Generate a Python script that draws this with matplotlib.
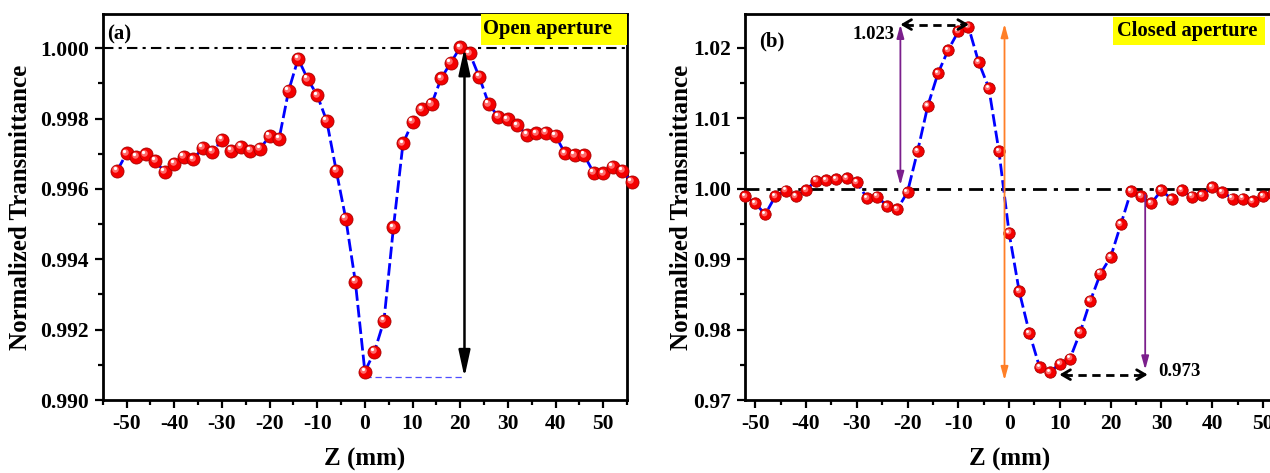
import matplotlib
matplotlib.use('Agg')
import matplotlib.pyplot as plt
from matplotlib.patches import FancyArrowPatch, Rectangle
from matplotlib.transforms import offset_copy
from matplotlib.ticker import MultipleLocator, FormatStrFormatter

plt.rcParams['font.family'] = ['Liberation Serif', 'DejaVu Serif']
plt.rcParams['font.weight'] = 'bold'
plt.rcParams['axes.labelweight'] = 'bold'
plt.rcParams['axes.unicode_minus'] = False

# ---------------- data ----------------
z_open = [-52, -50, -48, -46, -44, -42, -40, -38, -36, -34, -32, -30, -28, -26,
          -24, -22, -20, -18, -16, -14, -12, -10, -8, -6, -4, -2, 0, 2, 4, 6,
          8, 10, 12, 14, 16, 18, 20, 22, 24, 26, 28, 30, 32, 34, 36, 38, 40,
          42, 44, 46, 48, 50, 52, 54, 56]
t_open = [0.99651, 0.99701, 0.99691, 0.99698, 0.99680, 0.99648, 0.99672, 0.99691,
          0.99684, 0.99717, 0.99705, 0.99739, 0.99708, 0.99720, 0.99708, 0.99714,
          0.99750, 0.99742, 0.99879, 0.99970, 0.99912, 0.99866, 0.99793, 0.99651,
          0.99515, 0.99336, 0.99081, 0.99137, 0.99225, 0.99491, 0.99729, 0.99790,
          0.99826, 0.99841, 0.99914, 0.99958, 1.00002, 0.99985, 0.99918, 0.99841,
          0.99805, 0.99798, 0.99781, 0.99753, 0.99758, 0.99759, 0.99751, 0.99701,
          0.99696, 0.99696, 0.99646, 0.99644, 0.99663, 0.99651, 0.99620]

z_closed = [-52, -50, -48, -46, -44, -42, -40, -38, -36, -34, -32, -30, -28, -26,
            -24, -22, -20, -18, -16, -14, -12, -10, -8, -6, -4, -2, 0, 2, 4, 6,
            8, 10, 12, 14, 16, 18, 20, 22, 24, 26, 28, 30, 32, 34, 36, 38, 40,
            42, 44, 46, 48, 50, 52]
t_closed = [0.99897, 0.99792, 0.99637, 0.99897, 0.99972, 0.99897, 0.99981, 1.00113,
            1.00123, 1.00137, 1.00151, 1.00095, 0.99869, 0.99887, 0.99756, 0.99708,
            0.99953, 1.00537, 1.01177, 1.01638, 1.01968, 1.02232, 1.02298, 1.01798,
            1.01431, 1.00532, 0.99374, 0.98541, 0.97952, 0.97467, 0.97397, 0.97514,
            0.97589, 0.97962, 0.98408, 0.98795, 0.99030, 0.99492, 0.99962, 0.99891,
            0.99792, 0.99976, 0.99854, 0.99976, 0.99887, 0.99905, 1.00024, 0.99953,
            0.99859, 0.99859, 0.99821, 0.99897, 0.99930]

open_label = "Open aperture"
closed_label = "Closed aperture"
peak_value = 1.023
valley_value = 0.973
open_min = 0.99065

# ---------------- figure ----------------
fig = plt.figure(figsize=(12.7, 4.73), dpi=100)
ax1 = fig.add_axes([0.0809, 0.1543, 0.4128, 0.8161])
ax2 = fig.add_axes([0.5866, 0.1543, 0.4319, 0.8161])


def spheres(ax, x, y, ms):
    ax.plot(x, y, ls='none', marker='o', ms=ms, mfc='#F40000', mec='#A80000',
            mew=0.6, zorder=4, clip_on=False)
    tr = offset_copy(ax.transData, fig=fig, x=-ms * 0.12, y=ms * 0.12, units='points')
    ax.plot(x, y, ls='none', marker='o', ms=ms * 0.5, mfc='#FF6A6A', mec='none',
            transform=tr, zorder=5, clip_on=False)
    tr2 = offset_copy(ax.transData, fig=fig, x=-ms * 0.18, y=ms * 0.2, units='points')
    ax.plot(x, y, ls='none', marker='o', ms=ms * 0.25, mfc='white', mec='none',
            transform=tr2, zorder=6, clip_on=False)


def style(ax):
    for s in ax.spines.values():
        s.set_linewidth(2)
    ax.tick_params(which='major', direction='out', length=6, width=1.6,
                   labelsize=15.5, pad=4, top=False, right=False)
    ax.tick_params(which='minor', direction='out', length=3.5, width=1.6,
                   top=False, right=False)
    ax.xaxis.set_major_locator(MultipleLocator(10))
    ax.xaxis.set_minor_locator(MultipleLocator(5))
    ax.set_xlabel('Z (mm)', fontsize=18, va='center')
    ax.set_ylabel('Normalized Transmittance', fontsize=18, va='center')


# ---- panel (a) ----
ax1.plot(z_open, t_open, color='#0000FF', lw=2, ls=(0, (4.5, 1.5)), zorder=3, clip_on=False)
spheres(ax1, z_open, t_open, 9.4)
ax1.axhline(1.0, color='k', lw=1.5, ls=(0, (5, 2.5, 1.5, 2.5)), zorder=2)
ax1.set_xlim(-55, 55)
ax1.set_ylim(0.990, 1.00097)
ax1.yaxis.set_major_locator(MultipleLocator(0.002))
ax1.yaxis.set_minor_locator(MultipleLocator(0.001))
ax1.yaxis.set_major_formatter(FormatStrFormatter('%.3f'))
style(ax1)
ax1.xaxis.set_label_coords(0.5, -0.155)
ax1.yaxis.set_label_coords(-0.156, 0.5)

ax1.plot([0, 20.9], [open_min, open_min], color='#4D4DFF', lw=0.9,
         ls=(0, (5, 3)), zorder=2)
ax1.add_patch(FancyArrowPatch((20.9, open_min), (20.9, 1.0),
                              arrowstyle='<|-|>,head_length=16,head_width=3.5',
                              mutation_scale=1, lw=1.8, color='k',
                              shrinkA=0, shrinkB=0, zorder=7))
ax1.text(0.009, 0.948, '(a)', transform=ax1.transAxes, fontsize=15,
         ha='left', va='center')
ax1.add_patch(Rectangle((0.721, 0.9197), 0.279, 0.0803, transform=ax1.transAxes,
                        facecolor='#FFFF00', edgecolor='none', zorder=8))
ax1.text(0.848, 0.96, open_label, transform=ax1.transAxes, fontsize=14.8,
         ha='center', va='center', zorder=9)

# ---- panel (b) ----
ax2.plot(z_closed, t_closed, color='#0000FF', lw=2, ls=(0, (4.5, 1.5)), zorder=3)
spheres(ax2, z_closed, t_closed, 8.2)
ax2.axhline(1.0, color='k', lw=2, ls=(0, (5, 2.5, 1.5, 2.5)), zorder=2)
ax2.set_xlim(-52, 56)
ax2.set_ylim(0.97, 1.0248)
ax2.yaxis.set_major_locator(MultipleLocator(0.01))
ax2.yaxis.set_minor_locator(MultipleLocator(0.005))
ax2.yaxis.set_major_formatter(FormatStrFormatter('%.2f'))
style(ax2)
ax2.xaxis.set_label_coords(0.483, -0.155)
ax2.yaxis.set_label_coords(-0.1154, 0.5)

purple = '#7B1F8C'
orange = '#FF7F27'
# left purple double arrow
ax2.add_patch(FancyArrowPatch((-21.4, 1.0005), (-21.4, 1.0233),
                              arrowstyle='<|-|>,head_length=8,head_width=2.2',
                              mutation_scale=1, lw=1.3, color=purple,
                              shrinkA=0, shrinkB=0, zorder=7))
# orange double arrow
ax2.add_patch(FancyArrowPatch((-0.9, 0.9728), (-0.9, 1.0234),
                              arrowstyle='<|-|>,head_length=8,head_width=2.2',
                              mutation_scale=1, lw=1.3, color=orange,
                              shrinkA=0, shrinkB=0, zorder=7))
# right purple arrow (down)
ax2.add_patch(FancyArrowPatch((26.8, 0.9991), (26.8, 0.9743),
                              arrowstyle='-|>,head_length=8,head_width=2.2',
                              mutation_scale=1, lw=1.3, color=purple,
                              shrinkA=0, shrinkB=0, zorder=7))


def dashed_double(ax, x0, x1, y):
    ax.plot([x0 + 1, x1 - 1], [y, y], color='k', lw=2, ls=(0, (3, 2)), zorder=7)
    for a, b in ((x0 + 1.5, x0), (x1 - 1.5, x1)):
        ax.add_patch(FancyArrowPatch((a, y), (b, y),
                                     arrowstyle='->,head_length=6,head_width=3.5',
                                     mutation_scale=1, lw=2, color='k',
                                     shrinkA=0, shrinkB=0, zorder=7))


dashed_double(ax2, -21.4, -7.9, 1.0233)
dashed_double(ax2, 9.9, 27.3, 0.9736)
ax2.text(-22.6, 1.0219, f'{peak_value:.3f}', fontsize=13.5, ha='right', va='center', zorder=9)
ax2.text(29.4, 0.9741, f'{valley_value:.3f}', fontsize=13.5, ha='left', va='center', zorder=9)
ax2.text(0.026, 0.93, '(b)', transform=ax2.transAxes, fontsize=15,
         ha='left', va='center')
ax2.add_patch(Rectangle((0.671, 0.9197), 0.277, 0.0733, transform=ax2.transAxes,
                        facecolor='#FFFF00', edgecolor='none', zorder=8))
ax2.text(0.807, 0.957, closed_label, transform=ax2.transAxes, fontsize=14.8,
         ha='center', va='center', zorder=9)

fig.savefig('out.png', dpi=100, facecolor='white')
